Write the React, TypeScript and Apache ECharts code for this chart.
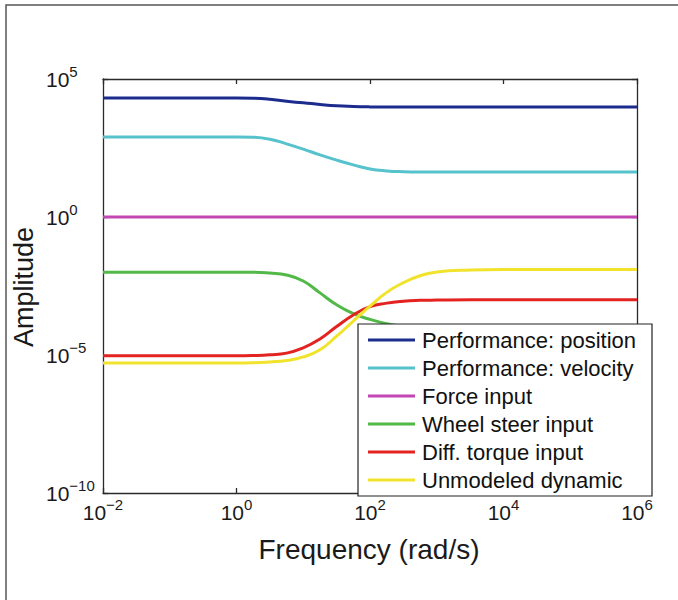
import React, { useEffect, useRef } from 'react';
import * as echarts from 'echarts';

const FONT = "'Liberation Sans', Arial, Helvetica, sans-serif";

// Frequency samples (rad/s)
const frequency = [0.01, 0.1, 1, 1.78, 3.16, 5.62, 10, 17.8, 31.6, 56.2, 100, 178, 316, 562, 1000, 3160, 1e4, 1e5, 1e6];

const seriesNames = [
  'Performance: position',
  'Performance: velocity',
  'Force input',
  'Wheel steer input',
  'Diff. torque input',
  'Unmodeled dynamic',
];

const seriesColors = ['#1c2b8e', '#55c2cc', '#c246b4', '#52b848', '#e3231f', '#f1e32c'];

const positionAmp = [2.04e4, 2.04e4, 2.04e4, 2.02e4, 1.86e4, 1.55e4, 1.38e4, 1.2e4, 1.07e4, 1.01e4, 9.77e3, 9.66e3, 9.66e3, 9.66e3, 9.66e3, 9.66e3, 9.66e3, 9.66e3, 9.66e3];
const velocityAmp = [794, 794, 794, 776, 661, 447, 288, 178, 115, 77.6, 55.0, 46.8, 43.7, 42.7, 42.7, 42.7, 42.7, 42.7, 42.7];
const forceAmp = [1, 1, 1, 1, 1, 1, 1, 1, 1, 1, 1, 1, 1, 1, 1, 1, 1, 1, 1];
const wheelSteerAmp = [0.01, 0.01, 0.01, 0.01, 9.33e-3, 7.94e-3, 4.79e-3, 1.78e-3, 6.61e-4, 3.16e-4, 1.95e-4, 1.35e-4, 1.07e-4, 9.55e-5, 9.12e-5, 8.91e-5, 8.91e-5, 8.91e-5, 8.91e-5];
const diffTorqueAmp = [9.33e-6, 9.33e-6, 9.33e-6, 9.55e-6, 1.02e-5, 1.17e-5, 1.82e-5, 3.8e-5, 1.07e-4, 2.82e-4, 5.62e-4, 7.59e-4, 8.91e-4, 9.55e-4, 9.77e-4, 1e-3, 1e-3, 1e-3, 1e-3];
const unmodeledAmp = [5.13e-6, 5.13e-6, 5.13e-6, 5.25e-6, 5.62e-6, 6.31e-6, 8.51e-6, 1.55e-5, 4.79e-5, 1.7e-4, 5.89e-4, 1.86e-3, 4.17e-3, 7.41e-3, 1.02e-2, 1.2e-2, 1.26e-2, 1.26e-2, 1.26e-2];

const allAmps = [positionAmp, velocityAmp, forceAmp, wheelSteerAmp, diffTorqueAmp, unmodeledAmp];

const xMin = 1e-2;
const xMax = 1e6;
const yMin = 1e-10;
const yMax = 1e5;

function expLabel(v: number) {
  const e = Math.round(Math.log10(v));
  const s = e < 0 ? '\u2212' + String(-e) : String(e);
  return '{b|10}{s|' + s + '}';
}

const richLabel = {
  b: { fontSize: 21, fontFamily: FONT, color: '#1a1a1a', lineHeight: 30 },
  s: { fontSize: 15, fontFamily: FONT, color: '#1a1a1a', lineHeight: 15, verticalAlign: 'top' },
};

const axisLineStyle = { color: '#2a2a2a', width: 1.3 };

export default function App() {
  const ref = useRef<HTMLDivElement>(null);

  useEffect(() => {
    if (!ref.current) return;
    const chart = echarts.init(ref.current, null, { renderer: 'svg' });

    const series = seriesNames.map((name, i) => ({
      name,
      type: 'line',
      xAxisIndex: 0,
      yAxisIndex: 0,
      data: frequency.map((f, j) => [f, allAmps[i][j]]),
      symbol: 'none',
      smooth: 0.5,
      lineStyle: { color: seriesColors[i], width: 3 },
      itemStyle: { color: seriesColors[i] },
      z: 2,
    }));

    chart.setOption({
      animation: false,
      backgroundColor: '#ffffff',
      grid: { left: 103, top: 79, right: 41, bottom: 107, containLabel: false },
      xAxis: [
        {
          type: 'log',
          logBase: 10,
          min: xMin,
          max: xMax,
          interval: 2,
          position: 'bottom',
          axisLine: { show: true, lineStyle: axisLineStyle },
          axisTick: { show: true, inside: true, length: 5, lineStyle: axisLineStyle },
          splitLine: { show: false },
          minorTick: { show: false },
          axisLabel: {
            show: true,
            margin: 4,
            showMinLabel: true,
            showMaxLabel: true,
            formatter: (v: number) => expLabel(v),
            rich: richLabel,
          },
        },
        {
          type: 'log',
          logBase: 10,
          min: xMin,
          max: xMax,
          interval: 2,
          position: 'top',
          axisLine: { show: true, lineStyle: axisLineStyle },
          axisTick: { show: true, inside: true, length: 5, lineStyle: axisLineStyle },
          splitLine: { show: false },
          axisLabel: { show: false },
        },
      ],
      yAxis: [
        {
          type: 'log',
          logBase: 10,
          min: yMin,
          max: yMax,
          interval: 5,
          position: 'left',
          axisLine: { show: true, lineStyle: axisLineStyle },
          axisTick: { show: true, inside: true, length: 5, lineStyle: axisLineStyle },
          splitLine: { show: false },
          minorTick: { show: false },
          axisLabel: {
            show: true,
            margin: 57,
            align: 'left',
            showMinLabel: true,
            showMaxLabel: true,
            formatter: (v: number) => expLabel(v),
            rich: richLabel,
          },
        },
        {
          type: 'log',
          logBase: 10,
          min: yMin,
          max: yMax,
          interval: 5,
          position: 'right',
          axisLine: { show: true, lineStyle: axisLineStyle },
          axisTick: { show: true, inside: true, length: 5, lineStyle: axisLineStyle },
          splitLine: { show: false },
          axisLabel: { show: false },
        },
      ],
      legend: {
        show: true,
        orient: 'vertical',
        left: 358,
        top: 324,
        padding: [2, 5, 2, 10],
        icon: 'rect',
        itemWidth: 47,
        itemHeight: 3,
        itemGap: 0,
        selectedMode: false,
        z: 10,
        textStyle: { fontSize: 22, fontFamily: FONT, color: '#111', lineHeight: 28, padding: [0, 0, 0, 2] },
        data: seriesNames,
      },
      graphic: [
        {
          type: 'rect',
          silent: true,
          z: -1,
          shape: { x: 6, y: 5, width: 700, height: 640 },
          style: { fill: 'none', stroke: '#555', lineWidth: 1.5 },
        },
        {
          type: 'rect',
          silent: true,
          z: 5,
          shape: { x: 358, y: 324, width: 294, height: 172 },
          style: { fill: '#ffffff', stroke: '#222', lineWidth: 1.2 },
        },
        {
          type: 'text',
          silent: true,
          x: 24,
          y: 287,
          rotation: Math.PI / 2,
          style: {
            text: 'Amplitude',
            fontSize: 27,
            fontFamily: FONT,
            fill: '#1a1a1a',
            align: 'center',
            verticalAlign: 'middle',
            textAlign: 'center',
            textVerticalAlign: 'middle',
          },
        },
        {
          type: 'text',
          silent: true,
          x: 369,
          y: 549,
          style: {
            text: 'Frequency (rad/s)',
            fontSize: 28,
            fontFamily: FONT,
            fill: '#1a1a1a',
            align: 'center',
            verticalAlign: 'middle',
            textAlign: 'center',
            textVerticalAlign: 'middle',
          },
        },
      ],
      series,
    });

    return () => chart.dispose();
  }, []);

  return (
    <div
      ref={ref}
      style={{ position: 'fixed', left: 0, top: 0, width: 678, height: 600, background: '#fff' }}
    />
  );
}
